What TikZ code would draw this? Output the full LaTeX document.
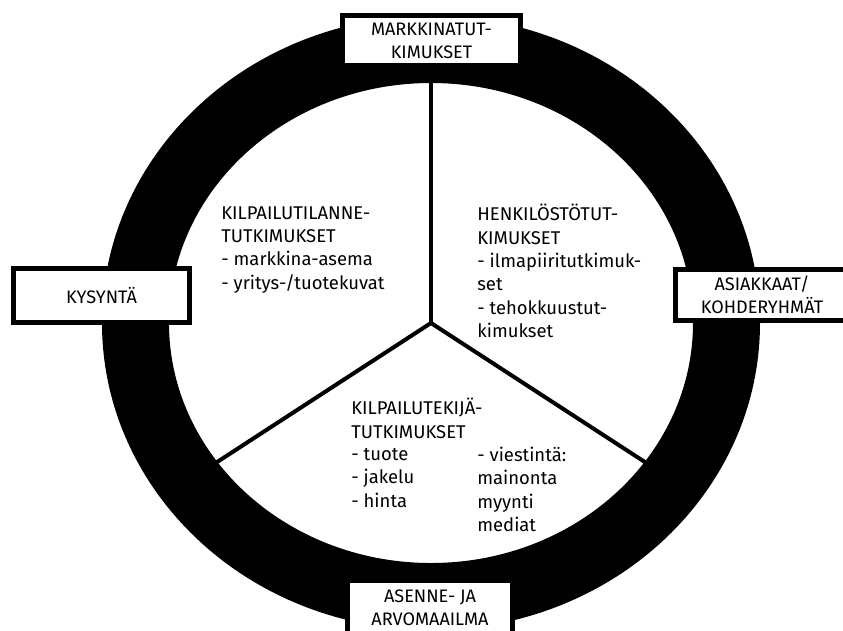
\documentclass[tikz,border=0pt]{standalone}
\usepackage{fontspec}
\setmainfont{Fira Sans}
\usetikzlibrary{positioning}

\tikzset{
    labelbox/.style={draw, line width=0.1cm, fill=white, align=center, inner sep=0pt, font=\fontsize{10.3}{13.2}\selectfont},
    areatext/.style={align=left, anchor=north west, inner sep=0pt, font=\fontsize{10.5}{13.3}\selectfont},
    divider/.style={line width=0.08cm}
}

\begin{document}
\begin{tikzpicture}
    \useasboundingbox (-8.62,-6.14) rectangle (8.24,6.46);
    %Ring
    \fill[black, even odd rule] (0,0) ellipse [x radius=6.58cm, y radius=6.14cm]
        (0,0) ellipse [x radius=5.24cm, y radius=4.80cm];
    %Dividers
    \coordinate (hub) at (0,0);
    \coordinate (topend) at (0,5.0);
    \coordinate (leftend) at (-4.40,-2.86);
    \coordinate (rightend) at (4.40,-2.86);
    \draw[divider] (hub) -- (topend);
    \draw[divider, line cap=round] (leftend) -- (hub) -- (rightend);
    %Boxes on the ring
    \node[labelbox, minimum width=3.56cm, minimum height=1.0cm] (markkina) at (0.01,5.65) {MARKKINATUT-\\KIMUKSET};
    \node[labelbox, minimum width=3.52cm, minimum height=1.08cm] (kysynta) at (-6.59,0.55) {KYSYNTÄ};
    \node[labelbox, minimum width=3.46cm, minimum height=1.02cm] (asiakkaat) at (6.62,0.56) {ASIAKKAAT/\\KOHDERYHMÄT};
    \node[labelbox, minimum width=3.30cm, minimum height=1.10cm] (asenne) at (-0.02,-5.70) {ASENNE- JA\\ARVOMAAILMA};
    %Left sector
    \node[areatext] (kilpailutilanne) at (-4.20,2.34) {KILPAILUTILANNE-\\TUTKIMUKSET\\- markkina-asema\\- yritys-/tuotekuvat};
    %Right sector
    \node[areatext] (henkilosto) at (0.92,2.38) {HENKILÖSTÖTUT-\\KIMUKSET\\- ilmapiiritutkimuk-\\set\\- tehokkuustut-\\kimukset};
    %Bottom sector
    \node[areatext] (tekija) at (-1.60,-1.50) {KILPAILUTEKIJÄ-\\TUTKIMUKSET};
    \node[areatext] (tekijavasen) at (-1.60,-2.50) {- tuote\\- jakelu\\- hinta};
    \node[areatext] (tekijaoikea) at (0.92,-2.47) {- viestintä:\\mainonta\\myynti\\mediat};
\end{tikzpicture}
\end{document}
